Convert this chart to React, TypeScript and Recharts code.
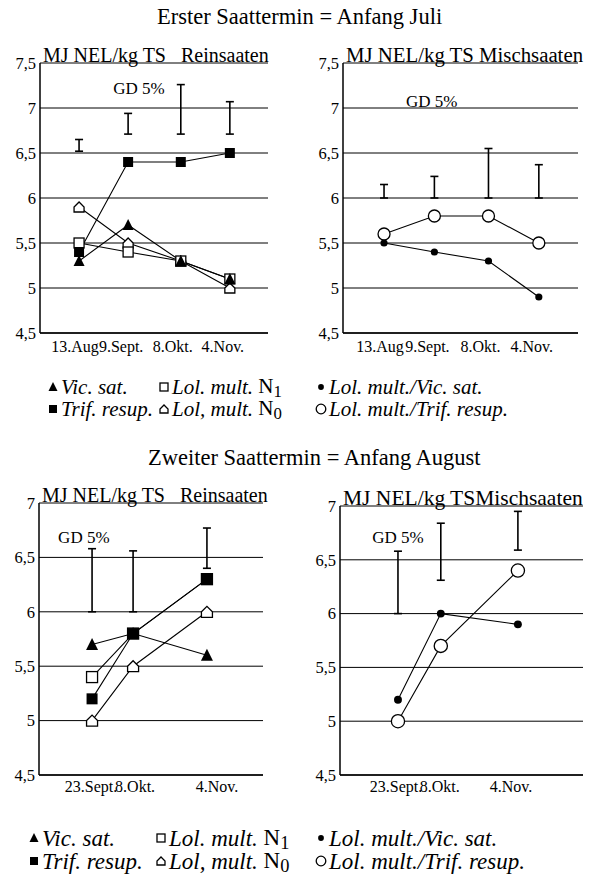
import { LineChart, Line, XAxis, YAxis, CartesianGrid, ErrorBar, ReferenceDot } from "recharts";

const FONT = "Liberation Serif, Times New Roman, serif";

// sampling dates as day of year
const firstDays = [225, 252, 281, 308];
const firstDayLabels = ["13.Aug", "9.Sept.", "8.Okt.", "4.Nov."];
const secondDays = [266, 281, 308];
const secondDayLabels = ["23.Sept.", "8.Okt.", "4.Nov."];

const yTicksFirst = [4.5, 5, 5.5, 6, 6.5, 7, 7.5];
const yTicksSecond = [4.5, 5, 5.5, 6, 6.5, 7];

// Erster Saattermin, Reinsaaten (MJ NEL/kg TS)
const earlyVicSat = [5.3, 5.7, 5.3, 5.1];
const earlyTrifResup = [5.4, 6.4, 6.4, 6.5];
const earlyLolN1 = [5.5, 5.4, 5.3, 5.1];
const earlyLolN0 = [5.9, 5.5, 5.3, 5.0];
const earlyPureGdLow = [6.52, 6.71, 6.71, 6.71];
const earlyPureGdHigh = [6.65, 6.94, 7.26, 7.07];

// Erster Saattermin, Mischsaaten
const earlyLolVic = [5.5, 5.4, 5.3, 4.9];
const earlyLolTrif = [5.6, 5.8, 5.8, 5.5];
const earlyMixGdLow = [6.0, 6.0, 6.0, 6.0];
const earlyMixGdHigh = [6.15, 6.24, 6.55, 6.37];

// Zweiter Saattermin, Reinsaaten
const lateVicSat = [5.7, 5.8, 5.6];
const lateTrifResup = [5.2, 5.8, 6.3];
const lateLolN1 = [5.4, 5.8, 6.3];
const lateLolN0 = [5.0, 5.5, 6.0];
const latePureGdLow = [6.0, 6.0, 6.4];
const latePureGdHigh = [6.58, 6.56, 6.77];

// Zweiter Saattermin, Mischsaaten
const lateLolVic = [5.2, 6.0, 5.9];
const lateLolTrif = [5.0, 5.7, 6.4];
const lateMixGdLow = [6.0, 6.31, 6.59];
const lateMixGdHigh = [6.58, 6.84, 6.95];

type Shape = "triangle" | "square" | "openSquare" | "house" | "dot" | "ring";
type Series = { name: string; values: (number | null)[]; shape: Shape };

function Marker({ cx, cy, shape, size }: { cx: number; cy: number; shape: Shape; size: number }) {
  const h = size / 2;
  if (shape === "triangle")
    return (
      <polygon
        points={`${cx},${cy - h - 1} ${cx + h + 0.5},${cy + h} ${cx - h - 0.5},${cy + h}`}
        fill="#000"
      />
    );
  if (shape === "square") return <rect x={cx - h} y={cy - h} width={size} height={size} fill="#000" />;
  if (shape === "openSquare")
    return (
      <rect x={cx - h} y={cy - h} width={size} height={size} fill="#fff" stroke="#000" strokeWidth={1.3} />
    );
  if (shape === "house")
    return (
      <polygon
        points={`${cx - h},${cy + h} ${cx + h},${cy + h} ${cx + h},${cy} ${cx},${cy - h} ${cx - h},${cy}`}
        fill="#fff"
        stroke="#000"
        strokeWidth={1.3}
      />
    );
  if (shape === "dot") return <circle cx={cx} cy={cy} r={size * 0.36} fill="#000" />;
  return <circle cx={cx} cy={cy} r={size * 0.6} fill="#fff" stroke="#000" strokeWidth={1.3} />;
}

const fmtComma = (v: number) => String(v).replace(".", ",");

interface PanelProps {
  left: number;
  top: number;
  width: number;
  height: number;
  margin: { top: number; right: number; bottom: number; left: number };
  yWidth: number;
  days: number[];
  dayLabels: string[];
  labelShift: number[];
  xDomain: [number, number];
  yTicks: number[];
  series: Series[];
  gdLow: number[];
  gdHigh: number[];
  gdAt: [number, number];
  title: string;
  titleSize: number;
  markerSize: number;
  tickFont: number;
  tickGap: number;
}

function Panel(p: PanelProps) {
  const rows = p.days.map((day, i) => {
    const row: Record<string, unknown> = {
      day,
      gd: p.gdLow[i],
      gdSpan: [0, +(p.gdHigh[i] - p.gdLow[i]).toFixed(2)],
    };
    p.series.forEach((s) => {
      row[s.name] = s.values[i];
    });
    return row;
  });
  const yMax = p.yTicks[p.yTicks.length - 1];
  const plotTop = p.top + p.margin.top;
  const frame = { stroke: "#000", strokeWidth: 1.5 };

  const renderTick = (t: any) => {
    const i = p.days.indexOf(t.payload.value);
    return (
      <text
        x={t.x + (p.labelShift[i] || 0)}
        y={t.y}
        dy="0.71em"
        textAnchor="middle"
        fontSize={p.tickFont}
        fontFamily={FONT}
        fill="#000"
      >
        {p.dayLabels[i]}
      </text>
    );
  };

  return (
    <>
      <div
        style={{
          position: "absolute",
          left: p.left + p.margin.left + p.yWidth + 3,
          top: plotTop - 18,
          fontFamily: FONT,
          fontSize: p.titleSize,
          lineHeight: "20px",
          whiteSpace: "pre",
          color: "#000",
        }}
      >
        {p.title}
      </div>
      <div style={{ position: "absolute", left: p.left, top: p.top }}>
        <LineChart width={p.width} height={p.height} data={rows} margin={p.margin}>
          <CartesianGrid vertical={false} stroke="#000" strokeWidth={1} />
          <XAxis
            type="number"
            dataKey="day"
            domain={p.xDomain}
            ticks={p.days}
            allowDataOverflow
            interval={0}
            height={30}
            tickLine={false}
            tickSize={0}
            tickMargin={p.tickGap}
            axisLine={frame}
            tick={renderTick}
          />
          <YAxis
            type="number"
            domain={[4.5, yMax]}
            ticks={p.yTicks}
            allowDataOverflow
            interval={0}
            width={p.yWidth}
            tickLine={false}
            tickSize={0}
            tickMargin={4}
            axisLine={frame}
            tickFormatter={fmtComma}
            tick={{ fontSize: 16.5, fill: "#000", fontFamily: FONT }}
          />
          <YAxis
            yAxisId="frame"
            orientation="right"
            type="number"
            domain={[4.5, yMax]}
            width={0}
            tick={false}
            tickLine={false}
            axisLine={frame}
          />
          <Line
            dataKey="gd"
            stroke="none"
            dot={false}
            activeDot={false}
            legendType="none"
            isAnimationActive={false}
          >
            <ErrorBar
              dataKey="gdSpan"
              direction="y"
              width={4}
              stroke="#000"
              strokeWidth={1.6}
              isAnimationActive={false}
            />
          </Line>
          {p.series.map((s) => (
            <Line
              key={s.name}
              dataKey={s.name}
              stroke="#000"
              strokeWidth={1.1}
              activeDot={false}
              isAnimationActive={false}
              dot={(d: any) =>
                d.cx == null || d.value == null ? (
                  <g key={`${s.name}-${d.index}`} />
                ) : (
                  <g key={`${s.name}-${d.index}`}>
                    <Marker cx={d.cx} cy={d.cy} shape={s.shape} size={p.markerSize} />
                  </g>
                )
              }
            />
          ))}
          <ReferenceDot
            x={p.gdAt[0]}
            y={p.gdAt[1]}
            r={0}
            fill="none"
            stroke="none"
            label={{ value: "GD 5%", position: "center", fontSize: 17, fill: "#000", fontFamily: FONT }}
          />
        </LineChart>
      </div>
    </>
  );
}

type LegendItem = { shape: Shape; text: string; sub?: string };
const legendColumns: LegendItem[][] = [
  [
    { shape: "triangle", text: "Vic. sat." },
    { shape: "square", text: "Trif. resup." },
  ],
  [
    { shape: "openSquare", text: "Lol. mult. ", sub: "1" },
    { shape: "house", text: "Lol, mult. ", sub: "0" },
  ],
  [
    { shape: "dot", text: "Lol. mult./Vic. sat." },
    { shape: "ring", text: "Lol. mult./Trif. resup." },
  ],
];

function SymbolLegend({ cols, rows, fontSize }: { cols: number[]; rows: number[]; fontSize: number }) {
  return (
    <>
      {legendColumns.map((col, c) =>
        col.map((item, r) => (
          <div
            key={`${c}-${r}`}
            style={{
              position: "absolute",
              left: cols[c],
              top: rows[r] - fontSize / 2,
              height: fontSize,
              lineHeight: `${fontSize}px`,
              display: "flex",
              alignItems: "center",
              fontFamily: FONT,
              fontSize,
              whiteSpace: "pre",
              color: "#000",
            }}
          >
            <svg width={12} height={12} style={{ marginRight: 2 }}>
              <Marker cx={6} cy={6} shape={item.shape} size={8} />
            </svg>
            <span style={{ fontStyle: "italic" }}>{item.text}</span>
            {item.sub && (
              <span>
                N
                <span style={{ fontSize: "0.8em", position: "relative", top: "0.25em" }}>{item.sub}</span>
              </span>
            )}
          </div>
        ))
      )}
    </>
  );
}

const pureFirst: Series[] = [
  { name: "Lol. mult. N0", values: earlyLolN0, shape: "house" },
  { name: "Lol. mult. N1", values: earlyLolN1, shape: "openSquare" },
  { name: "Vic. sat.", values: earlyVicSat, shape: "triangle" },
  { name: "Trif. resup.", values: earlyTrifResup, shape: "square" },
];
const mixFirst: Series[] = [
  { name: "Lol. mult./Vic. sat.", values: earlyLolVic, shape: "dot" },
  { name: "Lol. mult./Trif. resup.", values: earlyLolTrif, shape: "ring" },
];
const pureSecond: Series[] = [
  { name: "Lol. mult. N0", values: lateLolN0, shape: "house" },
  { name: "Lol. mult. N1", values: lateLolN1, shape: "openSquare" },
  { name: "Vic. sat.", values: lateVicSat, shape: "triangle" },
  { name: "Trif. resup.", values: lateTrifResup, shape: "square" },
];
const mixSecond: Series[] = [
  { name: "Lol. mult./Vic. sat.", values: lateLolVic, shape: "dot" },
  { name: "Lol. mult./Trif. resup.", values: lateLolTrif, shape: "ring" },
];

const headingStyle = {
  position: "absolute" as const,
  fontFamily: FONT,
  fontSize: 22.5,
  lineHeight: "24px",
  whiteSpace: "pre" as const,
  color: "#000",
};

export default function App() {
  return (
    <div
      style={{
        position: "absolute",
        left: 0,
        top: 0,
        width: 590,
        height: 881,
        background: "#fff",
        overflow: "hidden",
      }}
    >
      <div style={{ ...headingStyle, left: 157, top: 5 }}>Erster Saattermin = Anfang Juli</div>

      <Panel
        left={0}
        top={40}
        width={290}
        height={330}
        margin={{ top: 23, right: 22, bottom: 7, left: 0 }}
        yWidth={40}
        days={firstDays}
        dayLabels={firstDayLabels}
        labelShift={[-4, -7, -8, -7]}
        xDomain={[203.5, 329]}
        yTicks={yTicksFirst}
        series={pureFirst}
        gdLow={earlyPureGdLow}
        gdHigh={earlyPureGdHigh}
        gdAt={[258, 7.22]}
        title={"MJ NEL/kg TS   Reinsaaten"}
        titleSize={20}
        markerSize={10}
        tickFont={16}
        tickGap={8}
      />
      <Panel
        left={303}
        top={40}
        width={287}
        height={330}
        margin={{ top: 23, right: 12, bottom: 7, left: 0 }}
        yWidth={40}
        days={firstDays}
        dayLabels={firstDayLabels}
        labelShift={[-4, -7, -8, -7]}
        xDomain={[203, 329]}
        yTicks={yTicksFirst}
        series={mixFirst}
        gdLow={earlyMixGdLow}
        gdHigh={earlyMixGdHigh}
        gdAt={[250.6, 7.08]}
        title={"MJ NEL/kg TS Mischsaaten"}
        titleSize={20.8}
        markerSize={10}
        tickFont={16}
        tickGap={8}
      />
      <SymbolLegend cols={[47, 158, 315]} rows={[387, 409]} fontSize={21} />

      <div style={{ ...headingStyle, left: 148, top: 446 }}>Zweiter Saattermin = Anfang August</div>

      <Panel
        left={0}
        top={480}
        width={290}
        height={330}
        margin={{ top: 23, right: 27, bottom: 5, left: 0 }}
        yWidth={39}
        days={secondDays}
        dayLabels={secondDayLabels}
        labelShift={[-1, 2, 10]}
        xDomain={[246.6, 328.5]}
        yTicks={yTicksSecond}
        series={pureSecond}
        gdLow={latePureGdLow}
        gdHigh={latePureGdHigh}
        gdAt={[263, 6.69]}
        title={"MJ NEL/kg TS   Reinsaaten"}
        titleSize={20}
        markerSize={11}
        tickFont={16}
        tickGap={6}
      />
      <Panel
        left={300}
        top={480}
        width={290}
        height={330}
        margin={{ top: 26, right: 7, bottom: 5, left: 0 }}
        yWidth={40}
        days={secondDays}
        dayLabels={secondDayLabels}
        labelShift={[-2, -1, -7]}
        xDomain={[245.7, 330.8]}
        yTicks={yTicksSecond}
        series={mixSecond}
        gdLow={lateMixGdLow}
        gdHigh={lateMixGdHigh}
        gdAt={[266, 6.71]}
        title={"MJ NEL/kg TSMischsaaten"}
        titleSize={21.5}
        markerSize={11}
        tickFont={16}
        tickGap={6}
      />
      <SymbolLegend cols={[28, 155, 315]} rows={[838, 861]} fontSize={23} />
    </div>
  );
}
